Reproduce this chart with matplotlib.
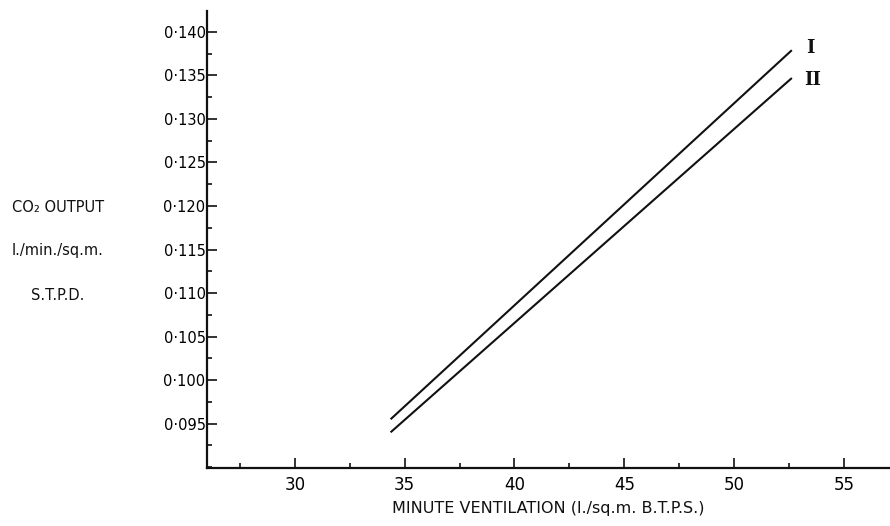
import matplotlib

matplotlib.use("Agg")
import matplotlib.pyplot as plt
from matplotlib.ticker import FixedLocator, MultipleLocator

FONT = ["Liberation Sans Narrow", "DejaVu Sans"]

x_ticks = [30, 35, 40, 45, 50, 55]
x_tick_labels = ["30", "35", "40", "45", "50", "55"]
y_ticks = [0.095, 0.100, 0.105, 0.110, 0.115, 0.120, 0.125, 0.130, 0.135, 0.140]
y_tick_labels = ["0·095", "0·100", "0·105", "0·110", "0·115",
                 "0·120", "0·125", "0·130", "0·135", "0·140"]

line_names = ["I", "II"]
line_x = [[34.36, 52.63], [34.36, 52.63]]
line_y = [[0.0955, 0.1379], [0.0940, 0.1347]]
name_x = [53.3, 53.2]
name_y = [0.1381, 0.1345]

y_label_lines = ["CO₂ OUTPUT", "l./min./sq.m.", "S.T.P.D."]
x_title = "MINUTE VENTILATION (l./sq.m. B.T.P.S.)"

fig = plt.figure(figsize=(8.9, 5.26), dpi=100)
ax = fig.add_axes([207 / 890, 58 / 526, 683 / 890, 457 / 526])

for xs, ys in zip(line_x, line_y):
    ax.plot(xs, ys, color="#111111", linewidth=1.5, solid_capstyle="butt")
for name, tx, ty in zip(line_names, name_x, name_y):
    ax.text(tx, ty, name, family="DejaVu Serif", fontweight="bold", fontsize=13,
            ha="left", va="center", color="#111111")

ax.set_xlim(26.0, 57.1)
ax.set_ylim(0.0899, 0.1424)
ax.spines["top"].set_visible(False)
ax.spines["right"].set_visible(False)
for side in ("left", "bottom"):
    ax.spines[side].set_linewidth(1.6)
    ax.spines[side].set_color("#111111")

ax.xaxis.set_major_locator(FixedLocator(x_ticks))
ax.xaxis.set_minor_locator(MultipleLocator(2.5))
ax.yaxis.set_major_locator(FixedLocator(y_ticks))
ax.yaxis.set_minor_locator(MultipleLocator(0.0025))
ax.set_xticklabels(x_tick_labels, family=FONT, fontsize=12)
ax.set_yticklabels(y_tick_labels, family=FONT, fontsize=10.5)

ax.tick_params(which="major", direction="in", length=7, width=1.2, color="#111111")
ax.tick_params(which="minor", direction="in", length=3.5, width=1.2, color="#111111")
ax.tick_params(axis="y", which="major", pad=1)
ax.tick_params(axis="x", which="major", pad=6)

ax.set_xlabel(x_title, family=FONT, fontsize=11.5, labelpad=5, color="#111111")

for i, txt in enumerate(y_label_lines):
    fig.text(58 / 890, 1 - (207 + 44 * i) / 526, txt, family=FONT, fontsize=10.5,
             ha="center", va="center", color="#111111")

fig.savefig("out.png", dpi=100)
